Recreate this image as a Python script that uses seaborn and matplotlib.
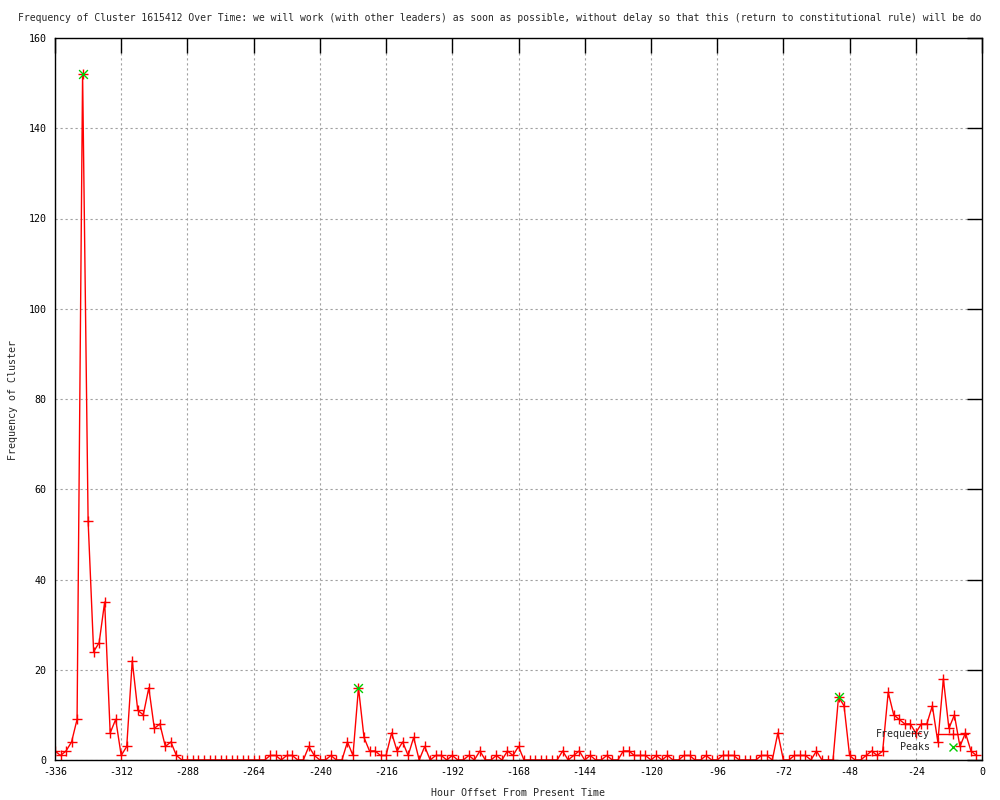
import matplotlib
matplotlib.use("Agg")
import matplotlib.pyplot as plt
from matplotlib.lines import Line2D
import pandas as pd
import seaborn as sns

# hours before now, one bin every 2 hours
hours = list(range(-336, 0, 2))
freq = [
    2, 1, 2, 4, 9, 152, 53, 24, 26, 35,
    6, 9, 1, 3, 22, 11, 10, 16, 7, 8,
    3, 4, 1, 0, 0, 0, 0, 0, 0, 0,
    0, 0, 0, 0, 0, 0, 0, 0, 0, 1,
    1, 0, 1, 1, 0, 0, 3, 1, 0, 0,
    1, 0, 0, 4, 1, 16, 5, 2, 2, 1,
    1, 6, 2, 4, 1, 5, 0, 3, 0, 1,
    1, 0, 1, 0, 0, 1, 0, 2, 0, 0,
    1, 0, 2, 1, 3, 0, 0, 0, 0, 0,
    0, 0, 2, 0, 1, 2, 0, 1, 0, 0,
    1, 0, 0, 2, 2, 1, 1, 1, 0, 1,
    0, 1, 0, 0, 1, 1, 0, 0, 1, 0,
    0, 1, 1, 1, 0, 0, 0, 0, 1, 1,
    0, 6, 0, 0, 1, 1, 1, 0, 2, 0,
    0, 0, 14, 12, 1, 0, 0, 1, 2, 1,
    2, 15, 10, 9, 8, 8, 6, 8, 8, 12,
    4, 18, 7, 10, 3, 6, 2, 1,
]
peak_hours = [-326, -226, -52]
peak_freq = [152, 16, 14]
x_ticks = list(range(-336, 1, 24))
y_ticks = list(range(0, 161, 20))

# the title is cut short in the original image
title = ("Frequency of Cluster 1615412 Over Time: we will work (with other leaders) "
         "as soon as possible, without delay so that this (return to constitutional rule) "
         "will be do")

df = pd.DataFrame({"hour": hours, "freq": freq})
peaks = pd.DataFrame({"hour": peak_hours, "freq": peak_freq})

sns.set_style("white")
plt.rcParams["font.family"] = ["DejaVu Sans Mono"]
FS = 7.2

fig = plt.figure(figsize=(10, 8), dpi=100)
ax = fig.add_axes([0.055, 0.05, 0.927, 0.9025])

sns.lineplot(data=df, x="hour", y="freq", ax=ax, color="red", linewidth=1,
             marker="+", markersize=7, markeredgewidth=1, markeredgecolor="red")
sns.scatterplot(data=peaks, x="hour", y="freq", ax=ax, marker="x", color="#00cc00",
                s=40, linewidth=1, zorder=5)

ax.set_xlim(-336, 0)
ax.set_ylim(0, 160)
ax.set_xticks(x_ticks)
ax.set_yticks(y_ticks)
ax.set_xticklabels([str(t) for t in x_ticks], fontsize=FS)
ax.set_yticklabels([str(t) for t in y_ticks], fontsize=FS)
ax.set_xlabel("")
ax.set_ylabel("")
ax.tick_params(direction="in", length=11, width=1, top=True, right=True,
               colors="black", labelsize=FS)
ax.tick_params(axis="x", pad=5)
ax.tick_params(axis="y", pad=6)
ax.grid(True, color="#a0a0a0", linestyle=(0, (2, 2.5)), linewidth=0.8)
for s in ax.spines.values():
    s.set_color("black")
    s.set_linewidth(1)

handles = [
    Line2D([], [], color="red", lw=1, marker="+", markersize=7, markeredgewidth=1),
    Line2D([], [], color="#00cc00", lw=0, marker="x", markersize=6, markeredgewidth=1),
]
ax.legend(handles, ["Frequency", "Peaks"], loc="lower right",
          bbox_to_anchor=(0.985, 0.011), frameon=False, markerfirst=False,
          fontsize=FS, handlelength=3.1, handletextpad=0.7, labelspacing=0.3,
          borderpad=0, borderaxespad=0)

fig.text(0.018, 1 - 18 / 800, title, ha="left", va="center", fontsize=7.05)
fig.text(0.013, 0.5, "Frequency of Cluster", rotation=90, ha="center", va="center", fontsize=FS)
fig.text(0.518, 1 - 793 / 800, "Hour Offset From Present Time", ha="center", va="center", fontsize=FS)

fig.savefig("out.png", dpi=100)
